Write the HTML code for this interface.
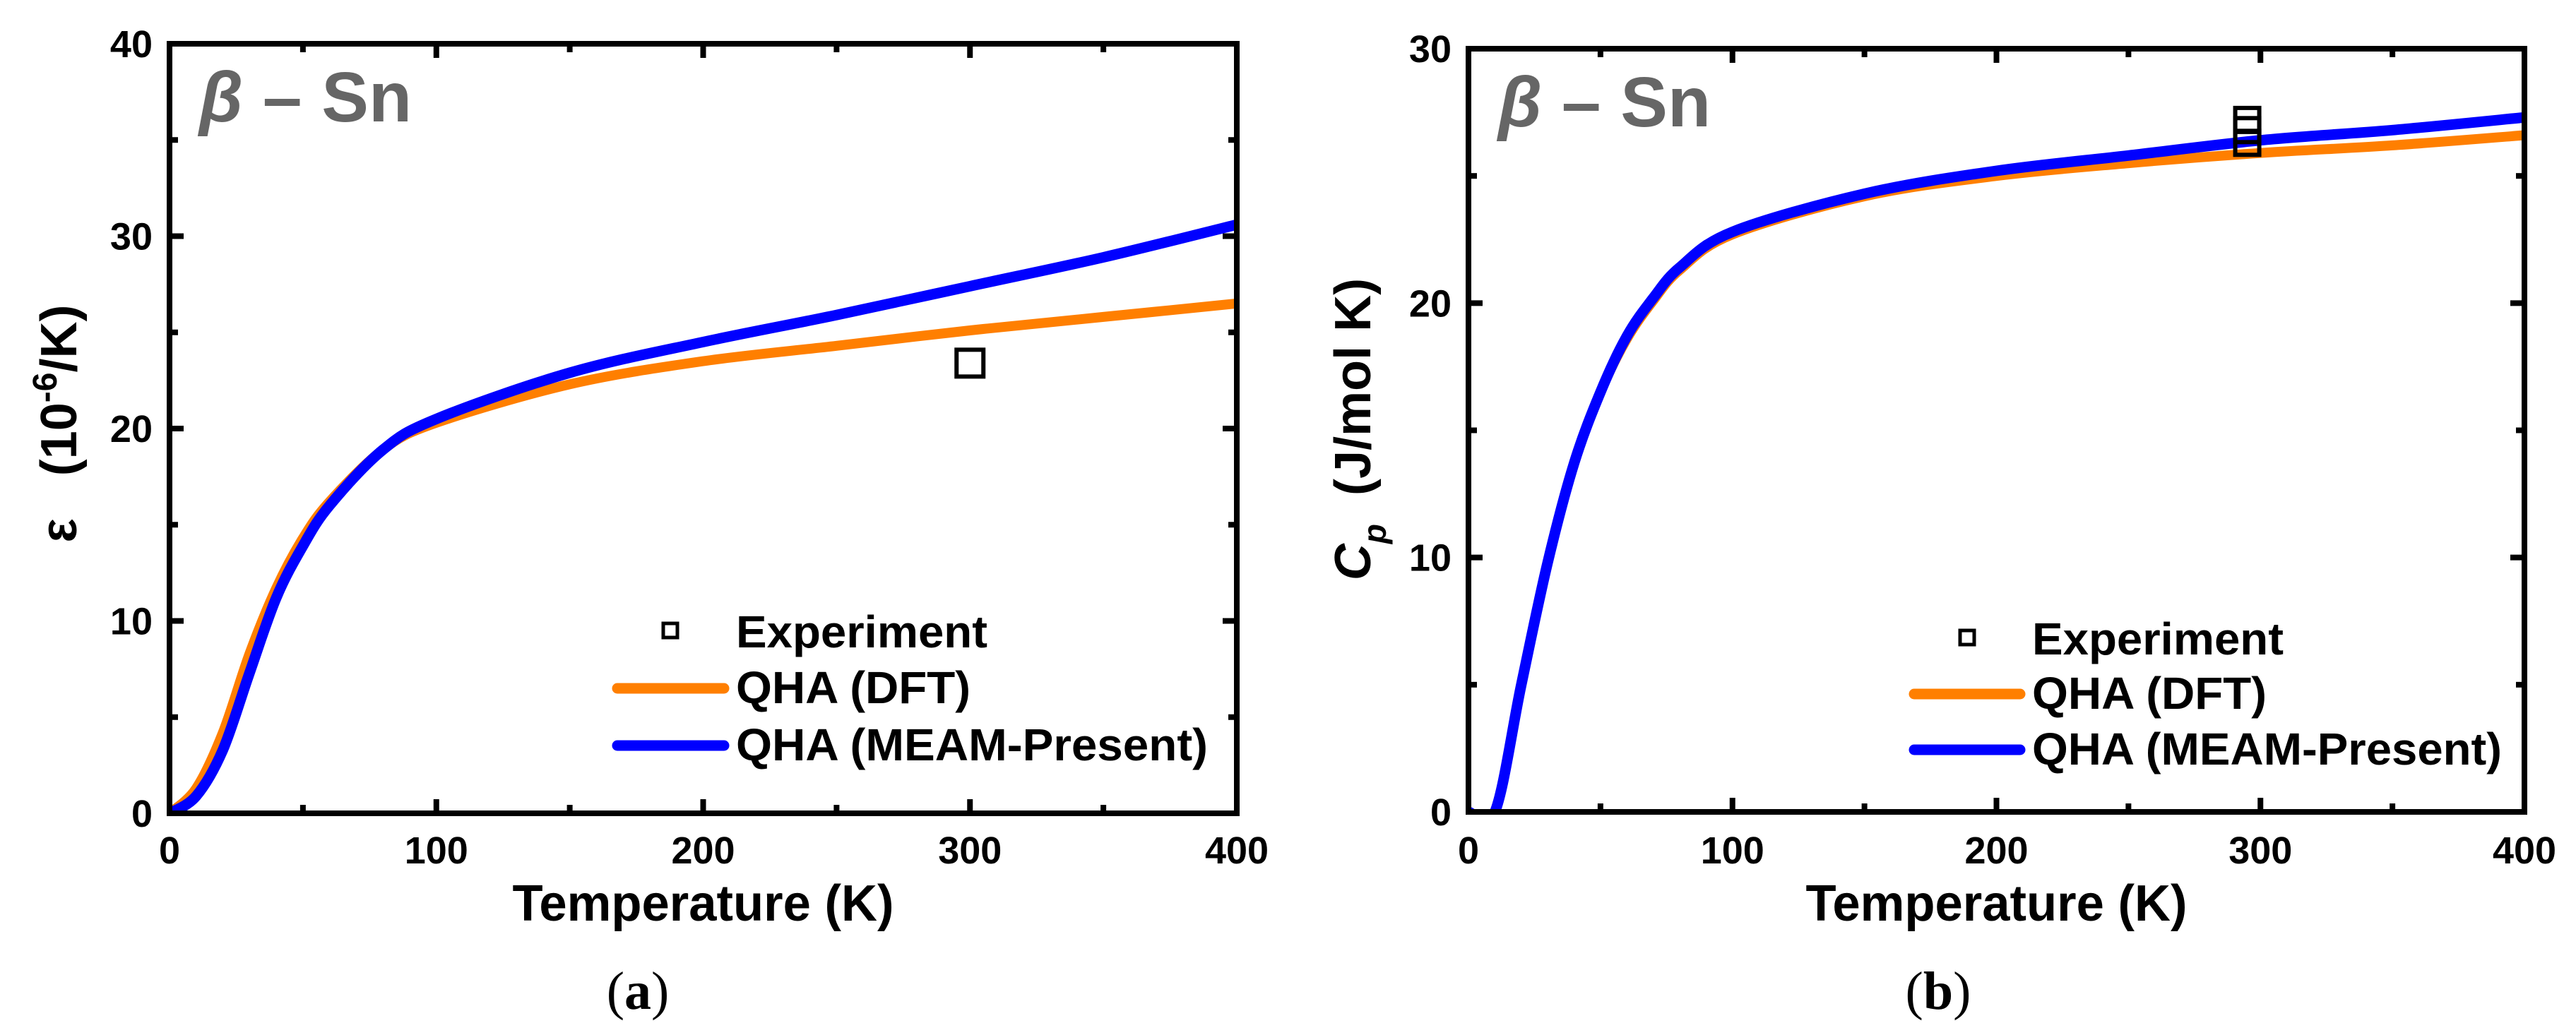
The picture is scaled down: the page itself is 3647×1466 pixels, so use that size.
<!DOCTYPE html>
<html><head><meta charset="utf-8"><style>
html,body{margin:0;padding:0;background:#fff}
svg{display:block}
text{font-family:"Liberation Sans",Arial,sans-serif;font-weight:bold}
</style></head><body>
<svg id="fig" width="3647" height="1466" viewBox="0 0 3647 1466" xmlns="http://www.w3.org/2000/svg"></svg>
<script>
// Panel (a) data
const aTemps = [0,10,20,30,40,50,60,80,100,150,200,250,300,350,400];
const aDFT   = [0,1.3,4.2,8.3,11.7,14.3,16.2,18.9,20.3,22.3,23.5,24.3,25.1,25.8,26.5];
const aMEAM  = [0,0.9,3.3,7.3,11.2,13.9,16.0,18.9,20.5,22.9,24.5,25.9,27.4,28.9,30.6];
const aExpT  = [300];
const aExpV  = [23.4];
const aYTicks = [0,10,20,30,40];
const xTicks = [0,100,200,300,400];
// Panel (b) data
const bTemps = [0,10,20,30,40,50,60,70,80,100,150,200,250,300,350,400];
const bDFT   = [0,0,5.0,9.8,13.7,16.5,18.6,20.1,21.3,22.7,24.2,25.0,25.5,25.9,26.2,26.6];
const bMEAM  = [0,0,5.0,9.8,13.7,16.5,18.7,20.2,21.4,22.8,24.3,25.2,25.8,26.4,26.8,27.3];
const bExpT  = [295,295,295];
const bExpV  = [27.2,26.8,26.3];
const bYTicks = [0,10,20,30];

const NS='http://www.w3.org/2000/svg';
const svg=document.getElementById('fig');
function el(tag,attrs,parent,txt){const e=document.createElementNS(NS,tag);for(const k in attrs)e.setAttribute(k,attrs[k]);if(txt!==undefined)e.textContent=txt;(parent||svg).appendChild(e);return e;}

function smoothPath(P){
  let d='M'+P[0][0].toFixed(1)+','+P[0][1].toFixed(1);
  for(let i=0;i<P.length-1;i++){
    const p0=P[i-1]||P[i],p1=P[i],p2=P[i+1],p3=P[i+2]||P[i+1];
    const c1=[p1[0]+(p2[0]-p0[0])/6,p1[1]+(p2[1]-p0[1])/6];
    const c2=[p2[0]-(p3[0]-p1[0])/6,p2[1]-(p3[1]-p1[1])/6];
    d+='C'+c1.map(v=>v.toFixed(1)).join(',')+' '+c2.map(v=>v.toFixed(1)).join(',')+' '+p2[0].toFixed(1)+','+p2[1].toFixed(1);
  }
  return d;
}

function panel(cfg){
  const g=el('g',{});
  
  
  const sx=v=>cfg.x0+(v-0)/400*(cfg.x1-cfg.x0);
  const sy=v=>cfg.y0-(v/cfg.ymax)*(cfg.y0-cfg.y1);
  for(let v=0;v<=400;v+=50){
    const len=(v%100===0)?20:12;const x=sx(v);
    if(v>0&&v<400){
      el('line',{x1:x,y1:cfg.y0,x2:x,y2:cfg.y0-len,stroke:'#000','stroke-width':8},g);
      el('line',{x1:x,y1:cfg.y1,x2:x,y2:cfg.y1+len,stroke:'#000','stroke-width':8},g);
    }
  }
  for(let v=0;v<=cfg.ymax;v+=5){
    const len=(v%10===0)?20:12;const y=sy(v);
    if(v>0&&v<cfg.ymax){
      el('line',{x1:cfg.x0,y1:y,x2:cfg.x0+len,y2:y,stroke:'#000','stroke-width':8},g);
      el('line',{x1:cfg.x1,y1:y,x2:cfg.x1-len,y2:y,stroke:'#000','stroke-width':8},g);
    }
  }
  xTicks.forEach(v=>{const t=el('text',{x:sx(v),y:1223,'text-anchor':'middle','font-size':54},g,String(v));
    });
  cfg.yTicks.forEach(v=>{const t=el('text',{x:cfg.ylabX,y:sy(v)+19,'text-anchor':'end','font-size':54},g,String(v));
    });
  const mk=(T,V)=>smoothPath(T.map((t,i)=>[sx(t),sy(V[i])]));
  const cp=el('clipPath',{id:'clip-'+cfg.name},g);
  el('rect',{x:cfg.x0,y:cfg.y1,width:cfg.x1-cfg.x0,height:cfg.y0-cfg.y1},cp);
  const pd=el('path',{d:mk(cfg.T,cfg.dft),fill:'none',stroke:'#ff7f00','stroke-width':14,'stroke-linejoin':'round','clip-path':'url(#clip-'+cfg.name+')'},g);
  
  const pm=el('path',{d:mk(cfg.T,cfg.meam),fill:'none',stroke:'#0000ff','stroke-width':15,'stroke-linejoin':'round','clip-path':'url(#clip-'+cfg.name+')'},g);
  
  cfg.expT.forEach((t,i)=>{const s=cfg.expSize;
    const r=el('rect',{x:sx(t)-s/2,y:sy(cfg.expV[i])-s/2,width:s,height:s,fill:'none',stroke:'#000','stroke-width':6},g);
    });
  const fr=el('rect',{x:cfg.x0,y:cfg.y1,width:cfg.x1-cfg.x0,height:cfg.y0-cfg.y1,fill:'none',stroke:'#000','stroke-width':8},g);
  
  const b=el('text',{x:cfg.x0+42,y:cfg.y1+110,'font-size':100,fill:'#666'},g);
  
  el('tspan',{'font-style':'italic'},b,'β');el('tspan',{},b,' – Sn');
  const L=cfg.leg;
  const lg=el('g',{},g);
  
  el('rect',{x:L.mx-10,y:L.y0-10,width:20,height:20,fill:'none',stroke:'#000','stroke-width':5},lg);
  el('text',{x:L.tx,y:L.y0+24,'font-size':64,textLength:356,lengthAdjust:'spacingAndGlyphs'},lg,'Experiment');
  el('line',{x1:L.lx0,y1:L.y1,x2:L.lx1,y2:L.y1,stroke:'#ff7f00','stroke-width':15,'stroke-linecap':'round'},lg);
  el('text',{x:L.tx,y:L.y1+21,'font-size':64,textLength:332,lengthAdjust:'spacingAndGlyphs'},lg,'QHA (DFT)');
  el('line',{x1:L.lx0,y1:L.y2,x2:L.lx1,y2:L.y2,stroke:'#0000ff','stroke-width':15,'stroke-linecap':'round'},lg);
  el('text',{x:L.tx,y:L.y2+21,'font-size':64,textLength:L.w3,lengthAdjust:'spacingAndGlyphs'},lg,'QHA (MEAM-Present)');
  const xt=el('text',{x:(cfg.x0+cfg.x1)/2,y:1304,'text-anchor':'middle','font-size':72,textLength:540,lengthAdjust:'spacingAndGlyphs'},g,'Temperature (K)');
  
  const cap=el('text',{x:cfg.capX,y:1429,'text-anchor':'middle','font-size':76,style:'font-family:"Liberation Serif",serif;font-weight:normal'},g);
  
  el('tspan',{},cap,'(');el('tspan',{'font-weight':'bold'},cap,cfg.capL);el('tspan',{},cap,')');
  return g;
}

panel({name:'panel-a',x0:240,x1:1751,y0:1152,y1:62,ymax:40,yTicks:aYTicks,ylabX:216,
  T:aTemps,dft:aDFT,meam:aMEAM,expT:aExpT,expV:aExpV,expSize:38,
  leg:{mx:949,tx:1042,y0:893,y1:975,y2:1056,lx0:874,lx1:1025,w3:668},capX:903,capL:'a'});
panel({name:'panel-b',x0:2079,x1:3574,y0:1150,y1:69,ymax:30,yTicks:bYTicks,ylabX:2055,
  T:bTemps,dft:bDFT,meam:bMEAM,expT:bExpT,expV:bExpV,expSize:34,
  leg:{mx:2785,tx:2877,y0:903,y1:983,y2:1062,lx0:2710,lx1:2860,w3:665},capX:2744,capL:'b'});

const ya=el('text',{x:0,y:0,'text-anchor':'middle','font-size':72,transform:'translate(108,600) rotate(-90)','xml:space':'preserve'});


el('tspan',{},ya,'ε\u00a0\u00a0\u00a0(10');el('tspan',{dy:-28,'font-size':48},ya,'-6');el('tspan',{dy:28},ya,'/K)');
const yb=el('text',{x:0,y:0,'text-anchor':'middle','font-size':72,transform:'translate(1940,608) rotate(-90)'});


el('tspan',{'font-style':'italic'},yb,'C');el('tspan',{dy:22,'font-size':46,'font-style':'italic'},yb,'p');el('tspan',{dy:-22},yb,'\u00a0\u00a0(J/mol K)');
</script>
</body></html>
